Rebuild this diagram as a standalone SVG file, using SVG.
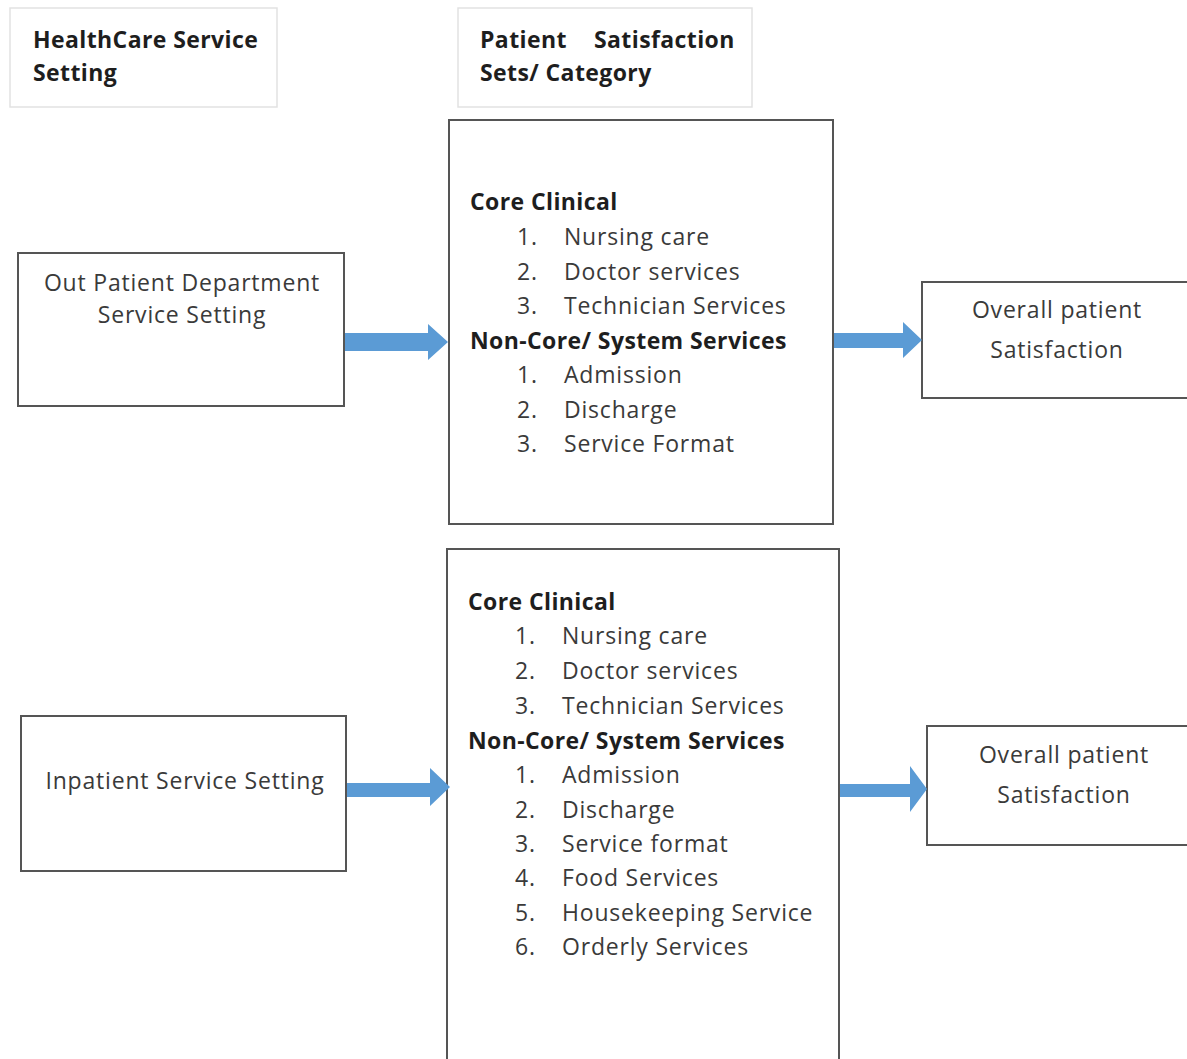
<svg xmlns="http://www.w3.org/2000/svg" width="1187" height="1059" viewBox="0 0 1187 1059">
<style>
text{font-family:"Open Sans","Noto Sans","Liberation Sans",sans-serif;font-size:23px;fill:#3a3a3a;letter-spacing:0.8px}
.b{font-weight:bold;fill:#1e1e1e;letter-spacing:0.4px}
.hdr{fill:#fff;stroke:#e2e2e2;stroke-width:1.5}
.box{fill:#fff;stroke:#555;stroke-width:2}
.c{text-anchor:middle}
.arr{fill:#5b9bd5}
</style>
<rect width="1187" height="1059" fill="#fff"/>
<g id="hdr1">
<rect class="hdr" x="10" y="8" width="267" height="99"/>
<text class="b" x="33" y="48">HealthCare Service</text>
<text class="b" x="33" y="81">Setting</text>
</g>
<g id="hdr2">
<rect class="hdr" x="458" y="8" width="294" height="99"/>
<text class="b" x="480" y="48">Patient</text>
<text class="b" x="594" y="48">Satisfaction</text>
<text class="b" x="480" y="81">Sets/ Category</text>
</g>
<g id="opd">
<rect class="box" x="18" y="253" width="326" height="153"/>
<text class="c" x="182" y="291">Out Patient Department</text>
<text class="c" x="182" y="323">Service Setting</text>
</g>
<g id="sets1">
<rect class="box" x="449" y="120" width="384" height="404"/>
<text class="b" x="470" y="210">Core Clinical</text>
<text x="517" y="245">1.</text><text x="564" y="245">Nursing care</text>
<text x="517" y="280">2.</text><text x="564" y="280">Doctor services</text>
<text x="517" y="314">3.</text><text x="564" y="314">Technician Services</text>
<text class="b" x="470" y="349">Non-Core/ System Services</text>
<text x="517" y="383">1.</text><text x="564" y="383">Admission</text>
<text x="517" y="418">2.</text><text x="564" y="418">Discharge</text>
<text x="517" y="452">3.</text><text x="564" y="452">Service Format</text>
</g>
<g id="out1">
<rect class="box" x="922" y="282" width="275" height="116"/>
<text class="c" x="1057" y="318">Overall patient</text>
<text class="c" x="1057" y="358">Satisfaction</text>
</g>
<g id="inp">
<rect class="box" x="21" y="716" width="325" height="155"/>
<text class="c" x="185" y="789">Inpatient Service Setting</text>
</g>
<g id="sets2">
<rect class="box" x="447" y="549" width="392" height="530"/>
<text class="b" x="468" y="610">Core Clinical</text>
<text x="515" y="644">1.</text><text x="562" y="644">Nursing care</text>
<text x="515" y="679">2.</text><text x="562" y="679">Doctor services</text>
<text x="515" y="714">3.</text><text x="562" y="714">Technician Services</text>
<text class="b" x="468" y="749">Non-Core/ System Services</text>
<text x="515" y="783">1.</text><text x="562" y="783">Admission</text>
<text x="515" y="818">2.</text><text x="562" y="818">Discharge</text>
<text x="515" y="852">3.</text><text x="562" y="852">Service format</text>
<text x="515" y="886">4.</text><text x="562" y="886">Food Services</text>
<text x="515" y="921">5.</text><text x="562" y="921">Housekeeping Service</text>
<text x="515" y="955">6.</text><text x="562" y="955">Orderly Services</text>
</g>
<g id="out2">
<rect class="box" x="927" y="726" width="270" height="119"/>
<text class="c" x="1064" y="763">Overall patient</text>
<text class="c" x="1064" y="803">Satisfaction</text>
</g>
<g id="connectors">
<path class="arr" d="M345,333 H428 V324 L448,342 L428,360 V351 H345 Z"/>
<path class="arr" d="M834,333 H903 V322 L922,340 L903,358 V348 H834 Z"/>
<path class="arr" d="M347,783 H430 V768 L450,787 L430,806 V797 H347 Z"/>
<path class="arr" d="M840,784 H910 V766 L927,789 L910,812 V797 H840 Z"/>
</g>
</svg>
